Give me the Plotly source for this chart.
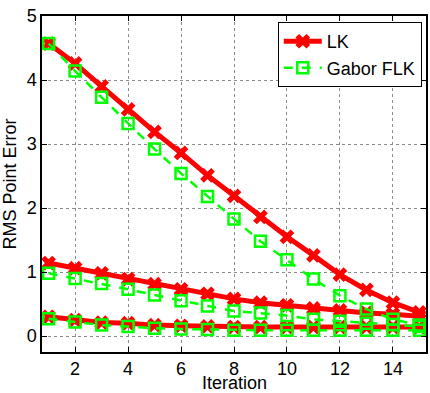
import plotly.graph_objects as go

iterations = list(range(1, 16))

# LK: three runs (large, medium and small initial error)
lk_high = [4.57, 4.26, 3.90, 3.54, 3.19, 2.86, 2.51, 2.19, 1.86, 1.55, 1.26, 0.96, 0.72, 0.52, 0.37]
lk_mid = [1.14, 1.06, 0.98, 0.89, 0.81, 0.73, 0.66, 0.58, 0.52, 0.48, 0.43, 0.40, 0.36, 0.34, 0.31]
lk_low = [0.30, 0.25, 0.21, 0.20, 0.17, 0.16, 0.15, 0.14, 0.14, 0.14, 0.14, 0.14, 0.14, 0.14, 0.14]

# Gabor FLK: same three runs
gabor_high = [4.57, 4.14, 3.73, 3.32, 2.92, 2.54, 2.18, 1.83, 1.48, 1.19, 0.89, 0.63, 0.42, 0.26, 0.17]
gabor_mid = [0.98, 0.90, 0.82, 0.73, 0.64, 0.55, 0.47, 0.39, 0.36, 0.32, 0.26, 0.23, 0.20, 0.18, 0.15]
gabor_low = [0.27, 0.22, 0.17, 0.15, 0.12, 0.11, 0.10, 0.09, 0.09, 0.09, 0.09, 0.09, 0.09, 0.09, 0.09]

x_ticks = [2, 4, 6, 8, 10, 12, 14]
y_ticks = [0, 1, 2, 3, 4, 5]

RED = "#ff0000"
GREEN = "#00ff00"
FONT_SIZE = 18

fig = go.Figure()

for i, ys in enumerate([lk_high, lk_mid, lk_low]):
    fig.add_trace(go.Scatter(
        x=iterations, y=ys, mode="lines+markers", name="LK",
        legendgroup="lk", showlegend=(i == 0),
        line=dict(color=RED, width=5),
        marker=dict(symbol="x", size=13, color=RED),
    ))

for i, ys in enumerate([gabor_high, gabor_mid, gabor_low]):
    fig.add_trace(go.Scatter(
        x=iterations, y=ys, mode="lines+markers", name="Gabor FLK",
        legendgroup="gabor", showlegend=(i == 0),
        line=dict(color=GREEN, width=2.5, dash="dash"),
        marker=dict(symbol="square-open", size=11, color=GREEN,
                    line=dict(color=GREEN, width=2.5)),
    ))

axis_common = dict(
    showline=True, linecolor="black", linewidth=1.5, mirror="ticks",
    ticks="inside", ticklen=5, tickcolor="black",
    showgrid=True, gridcolor="#8c8c8c", griddash="dot", gridwidth=1,
    zeroline=False, automargin=False,
    tickfont=dict(size=FONT_SIZE, color="black"),
)

fig.update_xaxes(range=[0.75, 15.25], tickvals=x_ticks, ticklabelstandoff=0,
                 **axis_common)
fig.update_yaxes(range=[-0.25, 5], tickvals=y_ticks,
                 title=dict(text="RMS Point Error", font=dict(size=FONT_SIZE, color="black"), standoff=6),
                 **axis_common)

# x-axis title sitting at the bottom edge, under the tick labels
fig.add_annotation(
    text="Iteration", xref="paper", yref="paper", x=0.5, y=0,
    xanchor="center", yanchor="bottom", yshift=-42, showarrow=False,
    font=dict(size=FONT_SIZE, color="black"), borderpad=0,
)

fig.update_layout(
    width=430, height=393,
    margin=dict(l=42, r=4, t=16, b=41),
    paper_bgcolor="white", plot_bgcolor="white",
    font=dict(family="Liberation Sans, Arial, sans-serif", color="black"),
    legend=dict(
        x=0.989, y=0.982, xanchor="right", yanchor="top",
        bgcolor="white", bordercolor="black", borderwidth=1,
        font=dict(size=FONT_SIZE, color="black"),
        tracegroupgap=0, itemwidth=38,
    ),
)

fig.write_html("out.html")
